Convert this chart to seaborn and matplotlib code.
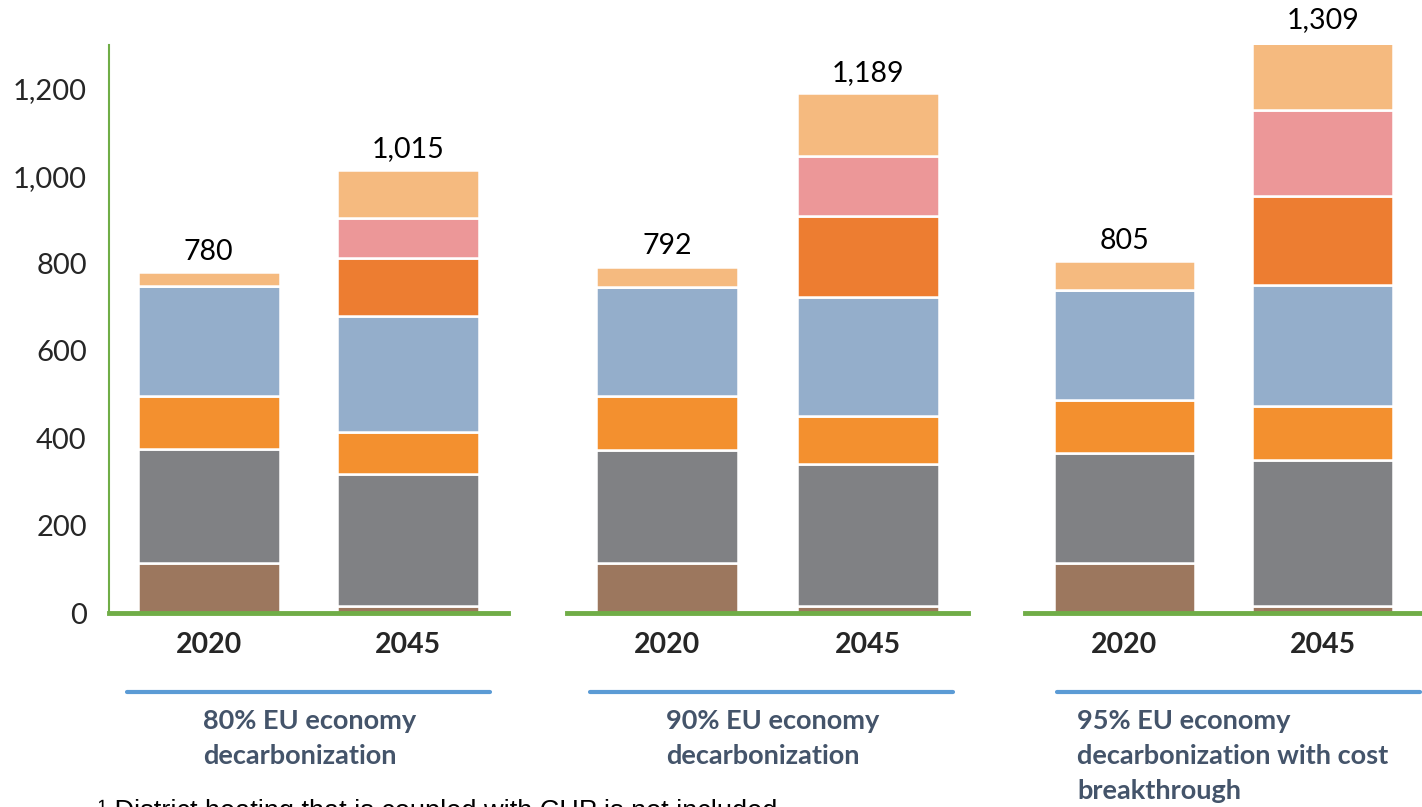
import numpy as np
import pandas as pd
import matplotlib
matplotlib.use("Agg")
import matplotlib.pyplot as plt
import seaborn as sns

# categories and series (stack order bottom -> top)
years = ["2020", "2045"]
scenarios = [
    "80% EU economy\ndecarbonization",
    "90% EU economy\ndecarbonization",
    "95% EU economy\ndecarbonization with cost\nbreakthrough",
]
totals = [[780, 1015], [792, 1189], [805, 1309]]

brown = [[115, 15], [115, 15], [115, 15]]
gray = [[260, 303], [258, 326], [251, 335]]
orange = [[122, 96], [124, 110], [122, 124]]
blue = [[252, 266], [250, 273], [252, 277]]
dark_orange = [[0, 133], [0, 185], [0, 204]]
pink = [[0, 91], [0, 138], [0, 197]]
light_orange = [[31, 111], [45, 142], [65, 157]]

series = [brown, gray, orange, blue, dark_orange, pink, light_orange]
colors = ["#9C775E", "#808184", "#F3902F", "#94AECB", "#ED7D31", "#EC9798", "#F5BA7F"]

sns.set_style("white")
plt.rcParams["font.family"] = ["Lato", "DejaVu Sans"]

GREEN = "#70AD47"
fig = plt.figure(figsize=(14.22, 8.07), dpi=100)

lefts = [109, 567, 1025]
widths = [399, 401, 397]
W, H = 1422, 807

for i in range(3):
    ax = fig.add_axes([lefts[i] / W, 1 - 613 / H, widths[i] / W, (613 - 45) / H])
    bottom = np.zeros(2)
    for s, c in zip(series, colors):
        vals = np.array(s[i], dtype=float)
        sns.barplot(x=years, y=vals, bottom=bottom, color=c, width=0.71,
                    edgecolor="white", linewidth=1.8, saturation=1, ax=ax)
        bottom += vals

    for j, t in enumerate(totals[i]):
        ax.text(j, t + 47, f"{t:,}", ha="center", va="center", fontsize=20.5, color="black")

    ax.set_xlim(-0.5, 1.5)
    ax.set_ylim(0, 1300)
    ax.set_xlabel("")
    ax.set_ylabel("")
    for side in ["top", "right"]:
        ax.spines[side].set_visible(False)
    ax.spines["bottom"].set_color(GREEN)
    ax.spines["bottom"].set_linewidth(3.5)
    ax.spines["bottom"].set_zorder(5)
    ax.tick_params(axis="x", length=0, pad=14)
    for lab in ax.get_xticklabels():
        lab.set_fontweight("bold")
        lab.set_fontsize(20.5)

    if i == 0:
        ax.spines["left"].set_color(GREEN)
        ax.spines["left"].set_linewidth(1.5)
        ax.set_yticks([0, 200, 400, 600, 800, 1000, 1200])
        ax.set_yticklabels([f"{v:,}" for v in [0, 200, 400, 600, 800, 1000, 1200]], fontsize=21)
        ax.tick_params(axis="y", direction="in", length=7, width=1.5, color=GREEN, pad=16)
    else:
        ax.spines["left"].set_visible(False)
        ax.set_yticks([])

# group separators and scenario labels
line_x = [(127, 490), (590, 953), (1057, 1420)]
text_x = [203, 666, 1077]
for (x0, x1), tx, label in zip(line_x, text_x, scenarios):
    fig.add_artist(plt.Line2D([x0 / W, x1 / W], [1 - 692 / H, 1 - 692 / H],
                              color="#5B9BD5", linewidth=3))
    fig.text(tx / W, 1 - 709 / H, label, ha="left", va="top", fontsize=19.5,
             fontweight="bold", color="#44546A", linespacing=1.55)

# footnote, cut off by the bottom edge as in the source
fig.text(98 / W, 1 - 819 / H, "\u00b9 District heating that is coupled with CHP is not included",
         ha="left", va="baseline", fontsize=19.5, color="black",
         family=["Liberation Sans", "DejaVu Sans"])

fig.savefig("out.png", dpi=100)
